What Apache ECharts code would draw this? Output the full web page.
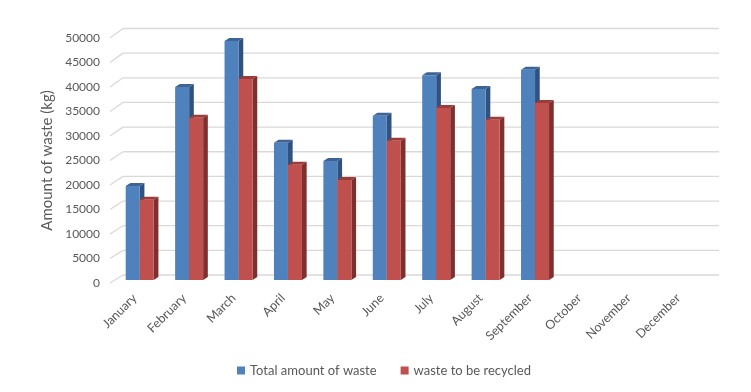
<!DOCTYPE html>
<html>
<head>
<meta charset="utf-8">
<script src="https://cdn.jsdelivr.net/npm/echarts@6/dist/echarts.min.js"></script>
<style>
  html, body { margin: 0; padding: 0; background: #fff; }
  #chart { width: 751px; height: 392px; }
</style>
</head>
<body>
<div id="chart"></div>
<script>
// data
var months = ["January", "February", "March", "April", "May", "June",
              "July", "August", "September", "October", "November", "December"];
var totalWaste = [19200, 39400, 48800, 28000, 24300, 33500, 41800, 39000, 42900];
var recycledWaste = [16400, 33100, 41000, 23500, 20400, 28400, 35100, 32700, 36100];
var yTicks = [0, 5000, 10000, 15000, 20000, 25000, 30000, 35000, 40000, 45000, 50000];

var DEPTH_X = 13, DEPTH_Y = -8;      // back wall offset
var BAR_SHIFT_X = 5, BAR_SHIFT_Y = -3; // bars sit a bit into the depth
var BAR_W = 14, SIDE_X = 4.7, SIDE_Y = -3;

var chart = echarts.init(document.getElementById('chart'));

function gridLine(params, api) {
    var cs = params.coordSys;
    var y = api.coord([0, api.value(1)])[1];
    var x0 = cs.x;
    var dy = DEPTH_Y - 1.5 * (cs.y + cs.height - y) / cs.height;
    var style = { stroke: '#d9d9d9', lineWidth: 1.3, fill: null };
    return {
        type: 'group',
        children: [
            { type: 'line', shape: { x1: x0, y1: y, x2: x0 + DEPTH_X, y2: y + dy }, style: style },
            { type: 'line', shape: { x1: x0 + DEPTH_X, y1: y + dy, x2: x0 + cs.width + DEPTH_X + 3, y2: y + dy }, style: style }
        ]
    };
}

function bar3d(offset, front, side, top) {
    return function (params, api) {
        var base = api.coord([api.value(0), 0]);
        var peak = api.coord([api.value(0), api.value(1)]);
        var xl = base[0] + offset + BAR_SHIFT_X;
        var xr = xl + BAR_W;
        var yb = base[1] + BAR_SHIFT_Y;
        var yt = peak[1] + BAR_SHIFT_Y;
        return {
            type: 'group',
            children: [
                { type: 'polygon', shape: { points: [[xr, yt], [xr + SIDE_X, yt + SIDE_Y], [xr + SIDE_X, yb + SIDE_Y], [xr, yb]] }, style: { fill: side } },
                { type: 'polygon', shape: { points: [[xl, yt], [xl + SIDE_X, yt + SIDE_Y], [xr + SIDE_X, yt + SIDE_Y], [xr, yt]] }, style: { fill: top } },
                { type: 'rect', shape: { x: xl, y: yt, width: BAR_W, height: yb - yt }, style: { fill: front } }
            ]
        };
    };
}

var option = {
    animation: false,
    textStyle: { fontFamily: 'Lato' },
    grid: { left: 110, right: 48, top: 38, bottom: 109 },
    legend: {
        data: ['Total amount of waste', 'waste to be recycled'],
        left: 232,
        top: 359,
        icon: 'rect',
        itemWidth: 8,
        itemHeight: 8,
        itemGap: 24,
        textStyle: { color: '#595959', fontSize: 13, fontFamily: 'Lato' }
    },
    xAxis: {
        type: 'category',
        data: months,
        axisLine: { show: false },
        axisTick: { show: false },
        axisLabel: { rotate: 45, interval: 0, margin: 13, color: '#595959', fontSize: 12.5 }
    },
    yAxis: {
        type: 'value',
        min: 0,
        max: 50000,
        interval: 5000,
        name: 'Amount of waste (kg)',
        nameLocation: 'middle',
        nameGap: 53,
        nameTextStyle: { color: '#595959', fontSize: 15 },
        axisLine: { show: false },
        axisTick: { show: false },
        splitLine: { show: false },
        axisLabel: {
            margin: 10,
            color: '#595959',
            fontSize: 12,
            formatter: function (v) { return String(v); }
        }
    },
    series: [
        {
            type: 'custom',
            name: 'grid',
            renderItem: gridLine,
            encode: { x: 0, y: 1 },
            data: yTicks.map(function (v) { return [0, v]; }),
            silent: true,
            z: 1
        },
        {
            type: 'custom',
            name: 'Total amount of waste',
            itemStyle: { color: '#4f81bd' },
            renderItem: bar3d(-BAR_W, '#4f81bd', '#2f5280', '#3d6494'),
            encode: { x: 0, y: 1 },
            data: totalWaste.map(function (v, i) { return [i, v]; }),
            z: 2
        },
        {
            type: 'custom',
            name: 'waste to be recycled',
            itemStyle: { color: '#c0504d' },
            renderItem: bar3d(0, '#c0504d', '#7f2f2d', '#9c3c39'),
            encode: { x: 0, y: 1 },
            data: recycledWaste.map(function (v, i) { return [i, v]; }),
            z: 3
        }
    ]
};

chart.setOption(option);
</script>
</body>
</html>
